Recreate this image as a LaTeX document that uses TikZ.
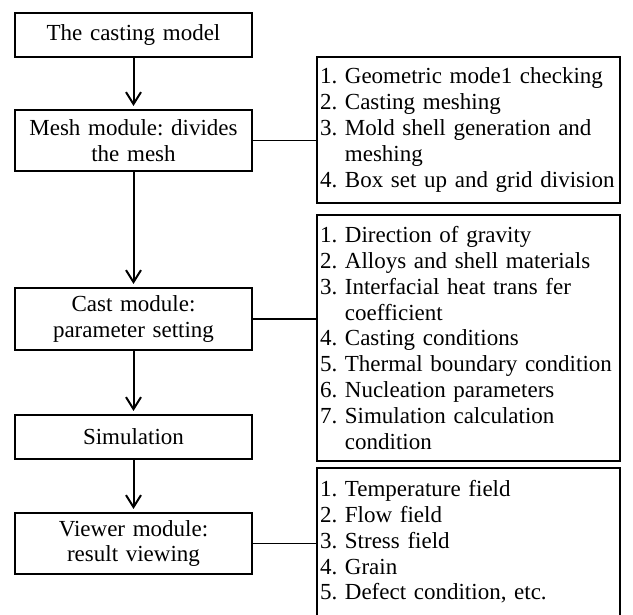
\documentclass[tikz,border=0pt]{standalone}
\usepackage{fontspec}
\setmainfont{Liberation Serif}
\usepackage{tikz}
\usetikzlibrary{arrows.meta,positioning}
\newcommand{\diagfont}{\fontsize{23}{25.8}\selectfont\frenchspacing\hyphenpenalty=10000}
\tikzset{
  wire/.style={black,line width=1.2pt},
  flow/.style={-{Straight Barb[length=12pt,width=15pt,line width=2pt]},line width=2pt,shorten >=3pt},
  module/.style={draw=black,line width=2pt,minimum width=237pt,text width=229pt,
                 inner sep=4pt,align=center,font=\diagfont},
  listbox/.style={draw=black,line width=2pt,minimum width=303pt,text width=297pt,
                  inner xsep=3pt,inner ysep=4pt,align=left,font=\diagfont},
}

\begin{document}
\begin{tikzpicture}[x=1pt,y=1pt]
  \path[use as bounding box] (0,0) rectangle (633,615);

  % main chain of modules
  \node[module,minimum height=44pt] (model) at (133.5,580) {The casting model};
  \node[module,minimum height=61pt] (mesh) at (133.5,474.5) {Mesh module: divides\\the mesh};
  \node[module,minimum height=62pt] (cast) at (133.5,296) {Cast module:\\parameter setting};
  \node[module,minimum height=44pt] (sim) at (133.5,178) {Simulation};
  \node[module,minimum height=61pt] (viewer) at (133.5,71.5) {Viewer module:\\result viewing};

  % detail lists
  \node[listbox,minimum height=146pt] (meshlist) at (468.5,485)
    {1. Geometric mode1 checking\\
     2. Casting meshing\\
     3. Mold shell generation and\\
     \phantom{3.~}meshing\\
     4. Box set up and grid division};
  \node[listbox,minimum height=246pt] (castlist) at (468.5,277)
    {1. Direction of gravity\\
     2. Alloys and shell materials\\
     3. Interfacial heat trans fer\\
     \phantom{3.~}coefficient\\
     4. Casting conditions\\
     5. Thermal boundary condition\\
     6. Nucleation parameters\\
     7. Simulation calculation\\
     \phantom{7.~}condition};
  \node[listbox,minimum height=148pt] (viewlist) at (468.5,73)
    {1. Temperature field\\
     2. Flow field\\
     3. Stress field\\
     4. Grain\\
     5. Defect condition, etc.};

  \draw[flow] (model) -- (mesh);
  \draw[flow] (mesh) -- (cast);
  \draw[flow] (cast) -- (sim);
  \draw[flow] (sim) -- (viewer);

  \draw[wire] (mesh.east) -- (mesh.east -| meshlist.west);
  \draw[wire] (cast.east) -- (cast.east -| castlist.west);
  \draw[wire] (viewer.east) -- (viewer.east -| viewlist.west);
\end{tikzpicture}
\end{document}
